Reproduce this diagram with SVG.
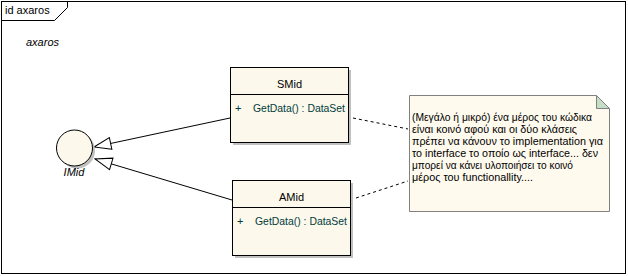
<svg xmlns="http://www.w3.org/2000/svg" width="628" height="276" viewBox="0 0 628 276">
<style>
text{font-family:"Liberation Sans",Arial,sans-serif;font-size:11px;fill:#000}
.cls{fill:#FDF8EC;stroke:#000;stroke-width:1}
.shadow{fill:#C0C0C0}
.op{fill:#003C3C}
.note text{font-size:10.5px}
.real{fill:none;stroke:#000;stroke-width:1}
.dash{fill:none;stroke:#000;stroke-width:1;stroke-dasharray:3,3}
</style>
<defs>
<marker id="tri" markerUnits="userSpaceOnUse" markerWidth="19" markerHeight="14" viewBox="-1 -1 19 14" refX="17" refY="6" orient="auto">
<path d="M0,0 L17,6 L0,12 Z" fill="#fff" stroke="#000" stroke-width="1"/>
</marker>
</defs>
<rect x="0" y="0" width="628" height="276" fill="#fff"/>
<g id="frame">
<rect x="1.5" y="1.5" width="624" height="272" fill="none" stroke="#000"/>
<path d="M1.5,20.5 H54.5 L67.5,7.5 V1.5" fill="none" stroke="#000"/>
<text x="5" y="14">id axaros</text>
<text x="26" y="46" font-style="italic" font-size="10">axaros</text>
</g>
<g id="connectors">
<line class="real" x1="230" y1="118" x2="94" y2="147" marker-end="url(#tri)"/>
<line class="real" x1="232" y1="200" x2="95" y2="159" marker-end="url(#tri)"/>
<line class="dash" x1="353" y1="118" x2="408" y2="129"/>
<line class="dash" x1="356" y1="198" x2="408" y2="181"/>
</g>
<g id="IMid">
<circle class="shadow" cx="77" cy="150.5" r="18"/>
<circle cx="74.5" cy="148" r="18" fill="#FDF8EC" stroke="#000"/>
<text x="74" y="176" text-anchor="middle" font-style="italic" font-size="10">IMid</text>
</g>
<g id="SMid">
<rect class="shadow" x="233" y="70" width="118" height="75"/>
<rect class="cls" x="230.5" y="67.5" width="118" height="75"/>
<line x1="230.5" y1="94.5" x2="348.5" y2="94.5" stroke="#000"/>
<text x="289.5" y="88" text-anchor="middle">SMid</text>
<text class="op" x="235" y="112">+</text>
<text class="op" x="253" y="112" textLength="92" lengthAdjust="spacingAndGlyphs">GetData() : DataSet</text>
</g>
<g id="AMid">
<rect class="shadow" x="235" y="183" width="118" height="75"/>
<rect class="cls" x="232.5" y="180.5" width="118" height="75"/>
<line x1="232.5" y1="207.5" x2="350.5" y2="207.5" stroke="#000"/>
<text x="291.5" y="201" text-anchor="middle">AMid</text>
<text class="op" x="237" y="225">+</text>
<text class="op" x="255" y="225" textLength="92" lengthAdjust="spacingAndGlyphs">GetData() : DataSet</text>
</g>
<g id="note" class="note">
<path d="M409.5,95.5 H596.5 L609.5,108.5 V211.5 H409.5 Z" fill="#FFFAEE" stroke="#808080"/>
<path d="M596.5,95.5 V108.5 H609.5 Z" fill="#C5DEC5" stroke="#808080"/>
<text x="412" y="121" textLength="180" lengthAdjust="spacingAndGlyphs">(Μεγάλο ή μικρό) ένα μέρος του κώδικα</text>
<text x="412" y="133" textLength="165" lengthAdjust="spacingAndGlyphs">είναι κοινό αφού και οι δύο κλάσεις</text>
<text x="412" y="145" textLength="191" lengthAdjust="spacingAndGlyphs">πρέπει να κάνουν το implementation για</text>
<text x="412" y="157" textLength="186" lengthAdjust="spacingAndGlyphs">το interface το οποίο ως interface... δεν</text>
<text x="412" y="169" textLength="161" lengthAdjust="spacingAndGlyphs">μπορεί να κάνει υλοποιήσει το κοινό</text>
<text x="412" y="181" textLength="121" lengthAdjust="spacingAndGlyphs">μέρος του functionallity....</text>
</g>
</svg>
